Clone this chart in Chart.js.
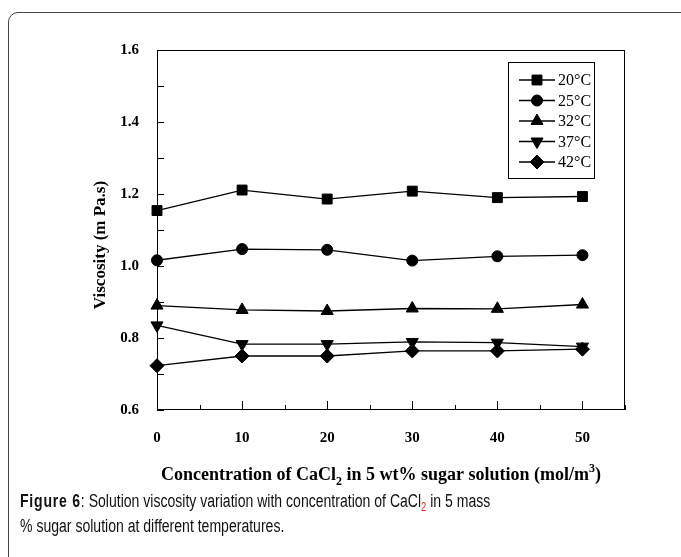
<!DOCTYPE html>
<html>
<head>
<meta charset="utf-8">
<script src="https://cdn.jsdelivr.net/npm/chart.js@4/dist/chart.umd.min.js"></script>
<style>
  html, body { margin: 0; padding: 0; background: #fff; overflow: hidden; }
  body { width: 681px; height: 557px; position: relative; }
  #frame { position: absolute; left: 8px; top: 12px; width: 720px; height: 620px;
           border: 1px solid #444; border-radius: 10px; }
  #wrap { position: absolute; left: 0; top: 0; width: 681px; height: 490px; }
  #caption { position: absolute; left: 20px; top: 489px; width: 800px;
             transform: scaleX(0.78); transform-origin: 0 0;
             font-family: "Liberation Sans", Arial, sans-serif;
             font-size: 18px; line-height: 25px; color: #111; white-space: nowrap; }
  #caption b { font-weight: bold; letter-spacing: 1px; }
  #caption sub { color: #e0201c; font-size: 12px; vertical-align: -4px; line-height: 0; }
</style>
</head>
<body>
<div id="frame"></div>
<div id="wrap"><canvas id="chart" width="681" height="490"></canvas></div>
<div id="caption"><b>Figure 6</b>: Solution viscosity variation with concentration of CaCl<sub>2</sub> in 5 mass<br>% sugar solution at different temperatures.</div>
<script>
// valores
const concentration = [0, 10, 20, 30, 40, 50];
const visc20 = [1.154, 1.211, 1.186, 1.208, 1.190, 1.193];
const visc25 = [1.016, 1.047, 1.045, 1.015, 1.027, 1.030];
const visc32 = [0.890, 0.878, 0.875, 0.882, 0.881, 0.893];
const visc37 = [0.835, 0.783, 0.783, 0.789, 0.787, 0.776];
const visc42 = [0.723, 0.750, 0.750, 0.764, 0.764, 0.769];
const seriesLabels = ["20\u00B0C", "25\u00B0C", "32\u00B0C", "37\u00B0C", "42\u00B0C"];

const serif = '"Liberation Serif", "Times New Roman", serif';

function pts(vals) {
  return vals.map((v, i) => ({ x: concentration[i], y: v }));
}

function makeSet(label, vals, style, radius, rotation) {
  return {
    label: label,
    data: pts(vals),
    borderColor: '#000',
    backgroundColor: '#000',
    borderWidth: 1.3,
    pointStyle: style,
    pointRadius: radius,
    pointRotation: rotation || 0,
    pointBackgroundColor: '#000',
    pointBorderColor: '#000',
    pointBorderWidth: 1,
    tension: 0,
    clip: false
  };
}

const datasets = [
  makeSet(seriesLabels[0], visc20, 'rect', 7),
  makeSet(seriesLabels[1], visc25, 'circle', 5.5),
  makeSet(seriesLabels[2], visc32, 'triangle', 7),
  makeSet(seriesLabels[3], visc37, 'triangle', 7, 180),
  makeSet(seriesLabels[4], visc42, 'rectRot', 7)
];

// marco, marcas hacia dentro
const boxPlugin = {
  id: 'boxPlugin',
  beforeDatasetsDraw(chart) {
    const { ctx, chartArea: a, scales: { x, y } } = chart;
    ctx.save();
    ctx.strokeStyle = '#000';
    ctx.lineWidth = 1;
    ctx.strokeRect(a.left + 0.5, a.top + 0.5, a.right - a.left - 1, a.bottom - a.top - 1);
    ctx.beginPath();
    x.ticks.forEach(t => {
      const px = Math.round(x.getPixelForValue(t.value)) + 0.5;
      const len = Math.round(t.value) % 10 === 0 ? 9 : 5;
      ctx.moveTo(px, a.bottom);
      ctx.lineTo(px, a.bottom - len);
    });
    y.ticks.forEach(t => {
      const py = Math.round(y.getPixelForValue(t.value)) + 0.5;
      ctx.moveTo(a.left, py);
      ctx.lineTo(a.left + 7, py);
    });
    ctx.stroke();
    ctx.restore();
  },
  afterDraw(chart) {
    const { ctx } = chart;
    ctx.save();
    ctx.fillStyle = '#000';

    // titulo eje Y
    ctx.font = 'bold 17px ' + serif;
    ctx.textAlign = 'center';
    ctx.textBaseline = 'middle';
    ctx.translate(101, 245);
    ctx.rotate(-Math.PI / 2);
    ctx.fillText('Viscosity (m Pa.s)', 0, 0);
    ctx.setTransform(1, 0, 0, 1, 0, 0);

    // titulo eje X con subindice y superindice
    const parts = [
      { t: 'Concentration of CaCl', f: 'bold 18px ' + serif, dy: 0 },
      { t: '2', f: 'bold 12px ' + serif, dy: 5 },
      { t: ' in 5 wt% sugar solution (mol/m', f: 'bold 18px ' + serif, dy: 0 },
      { t: '3', f: 'bold 12px ' + serif, dy: -8 },
      { t: ')', f: 'bold 18px ' + serif, dy: 0 }
    ];
    let total = 0;
    parts.forEach(p => { ctx.font = p.f; p.w = ctx.measureText(p.t).width; total += p.w; });
    let cx = 381 - total / 2;
    ctx.textAlign = 'left';
    ctx.textBaseline = 'alphabetic';
    parts.forEach(p => {
      ctx.font = p.f;
      ctx.fillText(p.t, cx, 480 + p.dy);
      cx += p.w;
    });

    // leyenda
    const lx = 508, ly = 62, lw = 86, lh = 116;
    ctx.fillStyle = '#fff';
    ctx.fillRect(lx, ly, lw, lh);
    ctx.strokeStyle = '#000';
    ctx.lineWidth = 1;
    ctx.strokeRect(lx + 0.5, ly + 0.5, lw, lh);
    chart.data.datasets.forEach((ds, i) => {
      const ry = ly + 18 + i * 20.5;
      ctx.beginPath();
      ctx.lineWidth = 1.3;
      ctx.moveTo(519, ry);
      ctx.lineTo(555, ry);
      ctx.stroke();
      if (Chart.helpers && Chart.helpers.drawPoint) {
        ctx.fillStyle = '#000';
        ctx.lineWidth = 1;
        Chart.helpers.drawPoint(ctx, {
          pointStyle: ds.pointStyle,
          radius: ds.pointRadius,
          rotation: ds.pointRotation,
          borderWidth: 1
        }, 537, ry);
      }
      ctx.fillStyle = '#000';
      ctx.font = '16px ' + serif;
      ctx.textBaseline = 'middle';
      ctx.fillText(ds.label, 558, ry + 1);
    });
    ctx.restore();
  }
};

new Chart(document.getElementById('chart'), {
  type: 'line',
  data: { datasets: datasets },
  options: {
    responsive: false,
    animation: false,
    devicePixelRatio: 1,
    layout: { padding: { left: 0, top: 50, right: 56, bottom: 0 } },
    plugins: { legend: { display: false }, tooltip: { enabled: false } },
    scales: {
      x: {
        type: 'linear',
        min: 0,
        max: 55,
        afterFit: s => { s.height = 80; },
        grid: { display: false, drawTicks: false },
        border: { display: false },
        ticks: {
          stepSize: 5,
          padding: 19,
          color: '#000',
          font: { family: serif, size: 15, weight: 'bold' },
          callback: v => (Math.round(v) % 10 === 0 ? String(v) : '')
        }
      },
      y: {
        min: 0.6,
        max: 1.6,
        afterFit: s => { s.width = 157; },
        grid: { display: false, drawTicks: false },
        border: { display: false },
        ticks: {
          stepSize: 0.1,
          padding: 18,
          color: '#000',
          font: { family: serif, size: 15, weight: 'bold' },
          callback: v => (Math.round(v * 10) % 2 === 0 ? v.toFixed(1) : '')
        }
      }
    }
  },
  plugins: [boxPlugin]
});
</script>
</body>
</html>
